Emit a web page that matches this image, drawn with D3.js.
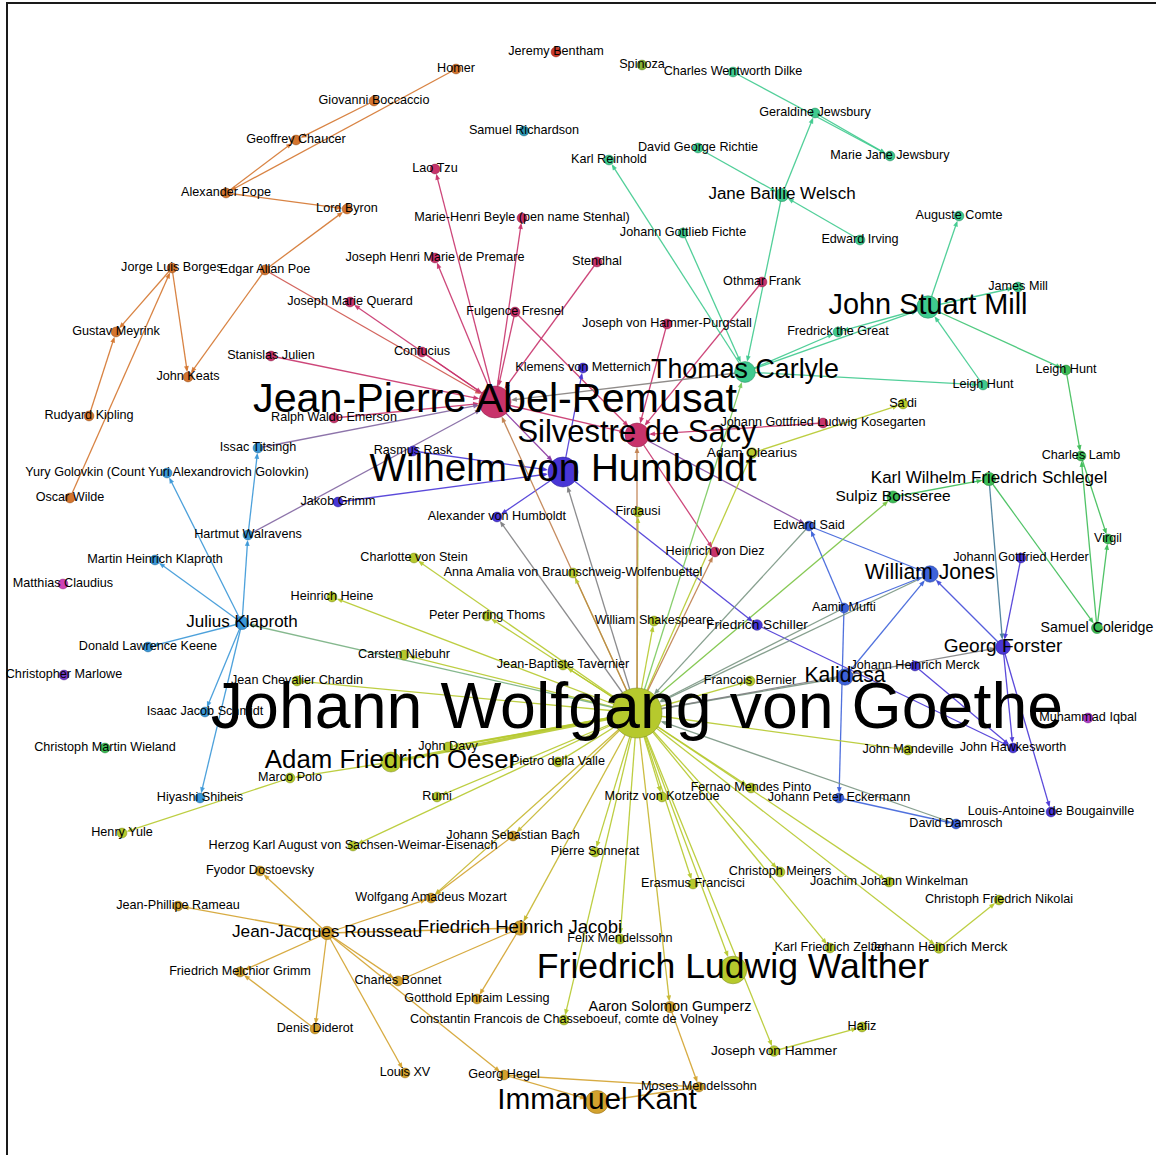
<!DOCTYPE html>
<html>
<head>
<meta charset="utf-8">
<script src="https://cdn.jsdelivr.net/npm/d3@7"></script>
<style>
  html, body { margin: 0; padding: 0; background: #fff; }
  svg { display: block; }
  .label { font-family: "Liberation Sans", Arial, Helvetica, sans-serif; fill: #000; text-anchor: middle; }
</style>
</head>
<body>
<svg id="chart" width="1156" height="1155"></svg>
<script>
// community colours (Gephi modularity classes)
const palette = {
  orange: '#d4752f',
  crimson: '#c8336b',
  teal: '#3fca8e',
  green: '#3dbd57',
  lime: '#b6c92d',
  gold: '#d3a22e',
  blue: '#3d62d9',
  indigo: '#4936d6',
  sky: '#3a97d7',
  red: '#cc3b2b',
  olive: '#86b336',
  cyan: '#2d98b6',
  pink: '#cf43b6',
  purple: '#7439c6',
  violet: '#ac3ac8'
};

// [name, layout x, layout y, size]  (size left out = 4.9)
const orangeNodes = [
  ['Homer', 456, 69], ['Giovanni Boccaccio', 374, 101], ['Geoffrey Chaucer', 296, 140],
  ['Alexander Pope', 226, 193], ['Lord Byron', 347, 209], ['Jorge Luis Borges', 172, 268],
  ['Edgar Allan Poe', 265, 270], ['Gustav Meyrink', 116, 332], ['John Keats', 188, 377],
  ['Rudyard Kipling', 89, 416], ['Oscar Wilde', 70, 498]
];
const crimsonNodes = [
  ['Jean-Pierre Abel-Remusat', 495, 402, 16], ['Silvestre de Sacy', 637, 435, 12],
  ['Lao Tzu', 435, 169], ['Marie-Henri Beyle (pen name Stenhal)', 522, 218],
  ['Joseph Henri Marie de Premare', 435, 258], ['Stendhal', 597, 262],
  ['Joseph Marie Querard', 350, 302], ['Fulgence Fresnel', 515, 312], ['Confucius', 422, 352],
  ['Stanislas Julien', 271, 356], ['Othmar Frank', 762, 282], ['Joseph von Hammer-Purgstall', 667, 324],
  ['Ralph Waldo Emerson', 334, 418], ['Johann Gottfried Ludwig Kosegarten', 823, 423],
  ['Heinrich von Diez', 715, 552]
];
const tealNodes = [
  ['Thomas Carlyle', 745, 372, 10.4], ['John Stuart Mill', 928, 307, 11.2],
  ['Charles Wentworth Dilke', 733, 72], ['Geraldine Jewsbury', 815, 113], ['Marie Jane Jewsbury', 890, 156],
  ['David George Richtie', 698, 148], ['Karl Reinhold', 609, 160], ['Jane Baillie Welsch', 782, 195, 6.6],
  ['Johann Gottlieb Fichte', 683, 233], ['Auguste Comte', 959, 216], ['Edward Irving', 860, 240],
  ['James Mill', 1018, 287], ['Fredrick the Great', 838, 332], ['Leigh Hunt', 983, 385]
];
const greenNodes = [
  ['Leigh Hunt#2', 1066, 370], ['Charles Lamb', 1081, 456],
  ['Karl Wilhelm Friedrich Schlegel', 989, 479, 6.6], ['Sulpiz Boisseree', 893, 497, 6],
  ['Virgil', 1108, 539], ['Samuel Coleridge', 1097, 628, 5.5], ['Christoph Martin Wieland', 105, 748]
];
const limeNodes = [
  ['Johann Wolfgang von Goethe', 637, 713, 25], ['Adam Friedrich Oeser', 391, 762, 10],
  ['Friedrich Ludwig Walther', 733, 970, 13.8], ['John Davy', 448, 747], ['Pietro della Valle', 558, 762],
  ['Marco Polo', 290, 778], ['Rumi', 437, 797], ['Henry Yule', 122, 833],
  ['Herzog Karl August von Sachsen-Weimar-Eisenach', 353, 846], ['Heinrich Heine', 332, 597],
  ['Peter Perring Thoms', 487, 616], ['Carsten Niebuhr', 404, 655], ['Jean Chevalier Chardin', 297, 681],
  ['Jean-Baptiste Tavernier', 563, 665], ['Charlotte von Stein', 414, 558],
  ['Anna Amalia von Braunschweig-Wolfenbuettel', 573, 573], ['William Shakespeare', 654, 621],
  ['Firdausi', 638, 512], ['Adam Olearius', 752, 453, 5.3], ["Sa'di", 903, 404],
  ['Francois Bernier', 750, 681], ['John Mandeville', 908, 750], ['Fernao Mendes Pinto', 751, 788],
  ['Moritz von Kotzebue', 662, 797], ['Pierre Sonnerat', 595, 852], ['Erasmus Francisci', 693, 884],
  ['Christoph Meiners', 780, 872], ['Joachim Johann Winkelman', 889, 882],
  ['Christoph Friedrich Nikolai', 999, 900], ['Johann Heinrich Merck#2', 939, 948, 5.2],
  ['Karl Friedrich Zelter', 830, 948], ['Felix Mendelssohn', 620, 939],
  ['Constantin Francois de Chasseboeuf, comte de Volney', 564, 1020], ['Hafiz', 862, 1027],
  ['Joseph von Hammer', 774, 1051, 5.3]
];
const goldNodes = [
  ['Immanuel Kant', 597, 1102, 11.5], ['Jean-Jacques Rousseau', 327, 933, 6.7],
  ['Friedrich Heinrich Jacobi', 520, 928, 7.2], ['Aaron Solomon Gumperz', 670, 1007, 5.6],
  ['Johann Sebastian Bach', 513, 836], ['Wolfgang Amadeus Mozart', 431, 898],
  ['Fyodor Dostoevsky', 260, 871], ['Jean-Phillipe Rameau', 178, 906],
  ['Friedrich Melchior Grimm', 240, 972], ['Denis Diderot', 315, 1029], ['Charles Bonnet', 398, 981],
  ['Gotthold Ephraim Lessing', 477, 999], ['Louis XV', 405, 1073], ['Georg Hegel', 504, 1075],
  ['Moses Mendelssohn', 699, 1087]
];
const blueNodes = [
  ['William Jones', 930, 574, 8.2], ['Kalidasa', 845, 677, 8.2], ['Edward Said', 809, 526],
  ['Aamir Mufti', 844, 608], ['Johann Peter Eckermann', 839, 798], ['David Damrosch', 956, 824]
];
const indigoNodes = [
  ['Wilhelm von Humboldt', 563, 472, 15], ['Georg Forster', 1003, 647, 7.4],
  ['Friedrich Schiller', 757, 625, 5.3], ['Klemens von Metternich', 583, 368],
  ['Jakob Grimm', 338, 502], ['Rasmus Rask', 413, 451], ['Alexander von Humboldt', 497, 517],
  ['Johann Gottfried Herder', 1021, 558], ['Johann Heinrich Merck', 915, 666],
  ['John Hawkesworth', 1013, 748], ['Louis-Antoine de Bougainville', 1051, 812]
];
const skyNodes = [
  ['Julius Klaproth', 242, 623, 6.6], ['Issac Titsingh', 258, 448],
  ['Yury Golovkin (Count Yuri Alexandrovich Golovkin)', 167, 473], ['Hartmut Walravens', 248, 535],
  ['Martin Heinrich Klaproth', 155, 560], ['Donald Lawrence Keene', 148, 647],
  ['Isaac Jacob Schmidt', 205, 712], ['Hiyashi Shiheis', 200, 798]
];
// single nodes: [name, x, y, colour]
const loneNodes = [
  ['Jeremy Bentham', 556, 52, 'red'], ['Spinoza', 642, 65, 'olive'],
  ['Samuel Richardson', 524, 131, 'cyan'], ['Matthias Claudius', 63, 584, 'pink'],
  ['Christopher Marlowe', 64, 675, 'purple'], ['Muhammad Iqbal', 1088, 718, 'violet']
];

const goethe = 'Johann Wolfgang von Goethe';
const goetheTargets = [
  'Heinrich Heine', 'Charlotte von Stein', 'Anna Amalia von Braunschweig-Wolfenbuettel',
  'Peter Perring Thoms', 'Carsten Niebuhr', 'Jean Chevalier Chardin', 'Jean-Baptiste Tavernier',
  'William Shakespeare', 'Firdausi', 'Adam Olearius', 'Francois Bernier', 'John Mandeville',
  'Fernao Mendes Pinto', 'Moritz von Kotzebue', 'Pierre Sonnerat', 'Erasmus Francisci',
  'Christoph Meiners', 'Joachim Johann Winkelman', 'Johann Heinrich Merck#2', 'Karl Friedrich Zelter',
  'Friedrich Ludwig Walther', 'Felix Mendelssohn', 'Constantin Francois de Chasseboeuf, comte de Volney',
  'Joseph von Hammer', 'John Davy', 'Pietro della Valle', 'Rumi',
  'Herzog Karl August von Sachsen-Weimar-Eisenach', 'Johann Sebastian Bach', 'Wolfgang Amadeus Mozart',
  'Friedrich Heinrich Jacobi', 'Aaron Solomon Gumperz', 'Jean-Pierre Abel-Remusat', 'Silvestre de Sacy',
  'Heinrich von Diez', 'Wilhelm von Humboldt', 'Alexander von Humboldt', 'Kalidasa', 'Georg Forster',
  'Sulpiz Boisseree', 'Thomas Carlyle', 'Julius Klaproth'
];
const goetheSources = ['Edward Said', 'Aamir Mufti', 'William Jones', 'David Damrosch'];
// heavier ties: [source, target, weight]
const strongTies = [
  [goethe, 'Adam Friedrich Oeser', 2.4], [goethe, 'John Davy', 1.6]
];
const links = [
  ['Homer', 'Alexander Pope'], ['Giovanni Boccaccio', 'Geoffrey Chaucer'],
  ['Alexander Pope', 'Geoffrey Chaucer'], ['Alexander Pope', 'Lord Byron'],
  ['Edgar Allan Poe', 'Lord Byron'], ['Edgar Allan Poe', 'John Keats'],
  ['Jorge Luis Borges', 'Gustav Meyrink'], ['Jorge Luis Borges', 'John Keats'],
  ['Rudyard Kipling', 'Gustav Meyrink'], ['Oscar Wilde', 'Jorge Luis Borges'],
  ['Edgar Allan Poe', 'Jean-Pierre Abel-Remusat'],
  ['Jean-Pierre Abel-Remusat', 'Lao Tzu'], ['Jean-Pierre Abel-Remusat', 'Marie-Henri Beyle (pen name Stenhal)'],
  ['Jean-Pierre Abel-Remusat', 'Joseph Henri Marie de Premare'], ['Jean-Pierre Abel-Remusat', 'Joseph Marie Querard'],
  ['Stanislas Julien', 'Jean-Pierre Abel-Remusat'], ['Confucius', 'Jean-Pierre Abel-Remusat'],
  ['Fulgence Fresnel', 'Jean-Pierre Abel-Remusat'], ['Stendhal', 'Jean-Pierre Abel-Remusat'],
  ['Ralph Waldo Emerson', 'Jean-Pierre Abel-Remusat'], ['Jean-Pierre Abel-Remusat', 'Silvestre de Sacy'],
  ['Fulgence Fresnel', 'Silvestre de Sacy'], ['Joseph von Hammer-Purgstall', 'Silvestre de Sacy'],
  ['Othmar Frank', 'Silvestre de Sacy'], ['Johann Gottfried Ludwig Kosegarten', 'Silvestre de Sacy'],
  ['Silvestre de Sacy', 'Heinrich von Diez'], ['Issac Titsingh', 'Jean-Pierre Abel-Remusat'],
  ['Hartmut Walravens', 'Jean-Pierre Abel-Remusat'], ['Jean-Pierre Abel-Remusat', 'Wilhelm von Humboldt'],
  ['Silvestre de Sacy', 'Edward Said'], ['Thomas Carlyle', 'Jean-Pierre Abel-Remusat'],
  ['Rasmus Rask', 'Wilhelm von Humboldt'], ['Jakob Grimm', 'Wilhelm von Humboldt'],
  ['Wilhelm von Humboldt', 'Alexander von Humboldt'], ['Wilhelm von Humboldt', 'Klemens von Metternich'],
  ['Wilhelm von Humboldt', 'Friedrich Schiller'], ['Friedrich Schiller', 'John Hawkesworth'],
  ['Aamir Mufti', 'Edward Said'], ['Edward Said', 'William Jones'], ['Aamir Mufti', 'William Jones'],
  ['Kalidasa', 'William Jones'], ['Aamir Mufti', 'Johann Peter Eckermann'],
  ['Johann Peter Eckermann', 'David Damrosch'], ['Georg Forster', 'William Jones'],
  ['Johann Gottfried Herder', 'Georg Forster'], ['Georg Forster', 'John Hawkesworth'],
  ['Georg Forster', 'Louis-Antoine de Bougainville'], ['Johann Heinrich Merck', 'John Hawkesworth'],
  ['Karl Wilhelm Friedrich Schlegel', 'Georg Forster'],
  ['Julius Klaproth', 'Hartmut Walravens'], ['Hartmut Walravens', 'Issac Titsingh'],
  ['Julius Klaproth', 'Yury Golovkin (Count Yuri Alexandrovich Golovkin)'],
  ['Julius Klaproth', 'Martin Heinrich Klaproth'], ['Julius Klaproth', 'Donald Lawrence Keene'],
  ['Julius Klaproth', 'Isaac Jacob Schmidt'], ['Julius Klaproth', 'Hiyashi Shiheis'],
  ['Charles Wentworth Dilke', 'Marie Jane Jewsbury'], ['Geraldine Jewsbury', 'Marie Jane Jewsbury'],
  ['Jane Baillie Welsch', 'Geraldine Jewsbury'], ['David George Richtie', 'Jane Baillie Welsch'],
  ['Edward Irving', 'Jane Baillie Welsch'], ['Jane Baillie Welsch', 'Thomas Carlyle'],
  ['Johann Gottlieb Fichte', 'Thomas Carlyle'], ['Thomas Carlyle', 'Karl Reinhold'],
  ['John Stuart Mill', 'Auguste Comte'], ['John Stuart Mill', 'James Mill'],
  ['John Stuart Mill', 'Fredrick the Great'], ['Thomas Carlyle', 'Fredrick the Great'],
  ['Thomas Carlyle', 'John Stuart Mill'], ['Leigh Hunt', 'John Stuart Mill'],
  ['John Stuart Mill', 'Leigh Hunt#2'], ['Thomas Carlyle', 'Leigh Hunt'], ['Leigh Hunt#2', 'Charles Lamb'],
  ['Karl Wilhelm Friedrich Schlegel', 'Samuel Coleridge'], ['Sulpiz Boisseree', 'Karl Wilhelm Friedrich Schlegel'],
  ['Charles Lamb', 'Virgil'], ['Samuel Coleridge', 'Virgil'], ['Samuel Coleridge', 'Charles Lamb'],
  ['Adam Olearius', "Sa'di"], ['Joseph von Hammer', 'Hafiz'],
  ['Johann Heinrich Merck#2', 'Christoph Friedrich Nikolai'],
  ['Adam Friedrich Oeser', 'Marco Polo'], ['Marco Polo', 'Henry Yule'],
  ['Jean-Jacques Rousseau', 'Fyodor Dostoevsky'], ['Jean-Jacques Rousseau', 'Jean-Phillipe Rameau'],
  ['Jean-Jacques Rousseau', 'Friedrich Melchior Grimm'], ['Jean-Jacques Rousseau', 'Denis Diderot'],
  ['Denis Diderot', 'Friedrich Melchior Grimm'], ['Jean-Jacques Rousseau', 'Charles Bonnet'],
  ['Jean-Jacques Rousseau', 'Louis XV'], ['Jean-Jacques Rousseau', 'Wolfgang Amadeus Mozart'],
  ['Jean-Jacques Rousseau', 'Friedrich Heinrich Jacobi'], ['Friedrich Heinrich Jacobi', 'Gotthold Ephraim Lessing'],
  ['Friedrich Heinrich Jacobi', 'Charles Bonnet'], ['Jean-Jacques Rousseau', 'Georg Hegel'],
  ['Georg Hegel', 'Immanuel Kant'], ['Georg Hegel', 'Moses Mendelssohn'],
  ['Immanuel Kant', 'Moses Mendelssohn'], ['Aaron Solomon Gumperz', 'Moses Mendelssohn'],
  ['Johann Sebastian Bach', 'Wolfgang Amadeus Mozart']
];

const width = 1156, height = 1155;
const svg = d3.select('#chart');

// outer frame (left and top edges visible)
svg.append('rect')
  .attr('x', 7).attr('y', 3)
  .attr('width', width + 20).attr('height', height + 20)
  .attr('fill', 'none').attr('stroke', '#1a1a1a').attr('stroke-width', 2);

let nodes = [];
[['orange', orangeNodes], ['crimson', crimsonNodes], ['teal', tealNodes], ['green', greenNodes],
 ['lime', limeNodes], ['gold', goldNodes], ['blue', blueNodes], ['indigo', indigoNodes], ['sky', skyNodes]]
  .forEach(([key, list]) => list.forEach(d => {
    nodes.push({ id: d[0], x: d[1], y: d[2], size: d[3] || 4.9, color: palette[key] });
  }));
loneNodes.forEach(d => nodes.push({ id: d[0], x: d[1], y: d[2], size: 4.9, color: palette[d[3]] }));
nodes.forEach(n => { n.label = n.id.replace(/#\d+$/, ''); });
const byId = new Map(nodes.map(n => [n.id, n]));

let edges = links.map(d => ({ s: d[0], t: d[1], w: 1 }));
goetheTargets.forEach(t => edges.push({ s: goethe, t: t, w: 1 }));
goetheSources.forEach(s => edges.push({ s: s, t: goethe, w: 1 }));
strongTies.forEach(d => edges.push({ s: d[0], t: d[1], w: d[2] }));
edges.forEach(e => { e.source = byId.get(e.s); e.target = byId.get(e.t); });
edges = edges.filter(e => e.source && e.target);

const x = d3.scaleLinear().domain([0, 1156]).range([0, width]);
const y = d3.scaleLinear().domain([0, 1155]).range([0, height]);
const radius = d3.scaleLinear().domain([0, 25]).range([0, 25]);
const fontSize = d3.scaleLinear().domain([0, 25]).range([0, 64.5]);

const edgeColor = e => d3.interpolateRgb(e.source.color, e.target.color)(0.5);
const arrowLen = 6, arrowHalf = 2.4;

function geom(e) {
  const x1 = x(e.source.x), y1 = y(e.source.y);
  const x2 = x(e.target.x), y2 = y(e.target.y);
  const dx = x2 - x1, dy = y2 - y1;
  const len = Math.sqrt(dx * dx + dy * dy) || 1;
  const ux = dx / len, uy = dy / len;
  const rt = radius(e.target.size);
  const tipX = x2 - ux * rt, tipY = y2 - uy * rt;
  return { x1, y1, tipX, tipY, ux, uy };
}

const edgeLayer = svg.append('g').attr('class', 'edges');
edgeLayer.selectAll('line')
  .data(edges)
  .enter()
  .append('line')
  .attr('x1', e => geom(e).x1)
  .attr('y1', e => geom(e).y1)
  .attr('x2', e => geom(e).tipX - geom(e).ux * 2)
  .attr('y2', e => geom(e).tipY - geom(e).uy * 2)
  .attr('stroke', edgeColor)
  .attr('stroke-width', e => 1.3 * e.w)
  .attr('stroke-opacity', 0.9);

edgeLayer.selectAll('path')
  .data(edges)
  .enter()
  .append('path')
  .attr('d', e => {
    const g = geom(e);
    const bx = g.tipX - g.ux * arrowLen, by = g.tipY - g.uy * arrowLen;
    const px = -g.uy * arrowHalf, py = g.ux * arrowHalf;
    return 'M' + g.tipX + ',' + g.tipY + 'L' + (bx + px) + ',' + (by + py) + 'L' + (bx - px) + ',' + (by - py) + 'Z';
  })
  .attr('fill', edgeColor)
  .attr('fill-opacity', 0.9);

// nodes
svg.append('g').attr('class', 'nodes')
  .selectAll('circle')
  .data(nodes)
  .enter()
  .append('circle')
  .attr('cx', d => x(d.x))
  .attr('cy', d => y(d.y))
  .attr('r', d => radius(d.size))
  .attr('fill', d => d.color)
  .attr('stroke', d => d3.color(d.color).darker(1))
  .attr('stroke-opacity', 0.6)
  .attr('stroke-width', 0.9);

// labels drawn last, centred on their node (baseline a little below the centre)
svg.append('g').attr('class', 'labels')
  .selectAll('text')
  .data(nodes.slice().sort((a, b) => a.size - b.size))
  .enter()
  .append('text')
  .attr('class', 'label')
  .attr('x', d => x(d.x))
  .attr('y', d => y(d.y) + 0.5 + 0.22 * fontSize(d.size))
  .style('font-size', d => fontSize(d.size) + 'px')
  .text(d => d.label);
</script>
</body>
</html>
